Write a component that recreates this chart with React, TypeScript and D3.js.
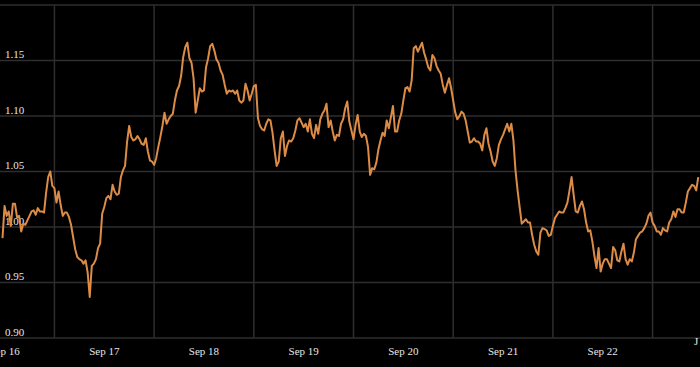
import React from "react";
import * as d3 from "d3";

const width = 700,
  height = 367;

// half-hourly closes, split by calendar day (Sep 16 starts at 11:30)
const sep16 = [
  0.99, 1.019, 1.01, 1.014, 1.001, 1.021, 1.021, 1.009, 1.01, 0.996, 1.003, 1.002, 1.006,
  1.01, 1.014, 1.015, 1.011, 1.017, 1.014, 1.014, 1.013, 1.031, 1.045, 1.05, 1.037,
];
const sep17 = [
  1.035, 1.022, 1.032, 1.02, 1.01, 1.013, 1.013, 1.009, 1.002, 0.991, 0.98, 0.973, 0.971,
  0.97, 0.967, 0.97, 0.959, 0.937, 0.965, 0.967, 0.971, 0.981, 0.985, 1.012, 1.018, 1.026,
  1.028, 1.025, 1.038, 1.032, 1.029, 1.03, 1.045, 1.051, 1.055, 1.077, 1.091, 1.081, 1.078,
  1.079, 1.082, 1.079, 1.075, 1.074, 1.08, 1.068, 1.06, 1.059,
];
const sep18 = [
  1.056, 1.062, 1.072, 1.081, 1.091, 1.103, 1.093, 1.097, 1.1, 1.102, 1.114, 1.123, 1.127,
  1.136, 1.153, 1.162, 1.166, 1.152, 1.148, 1.134, 1.103, 1.114, 1.125, 1.122, 1.123, 1.144,
  1.152, 1.163, 1.165, 1.159, 1.151, 1.148, 1.141, 1.137, 1.128, 1.12, 1.123, 1.122, 1.123,
  1.12, 1.123, 1.114, 1.112, 1.114, 1.129, 1.123, 1.114, 1.12,
];
const sep19 = [
  1.127, 1.128, 1.098, 1.091, 1.088, 1.087, 1.093, 1.097, 1.096, 1.085, 1.069, 1.055, 1.059,
  1.08, 1.086, 1.064, 1.073, 1.078, 1.077, 1.08, 1.087, 1.096, 1.098, 1.094, 1.09, 1.093,
  1.086, 1.097, 1.084, 1.08, 1.092, 1.084, 1.097, 1.102, 1.105, 1.111, 1.09, 1.096, 1.086,
  1.078, 1.083, 1.082, 1.093, 1.097, 1.107, 1.113, 1.095, 1.087,
];
const sep20 = [
  1.079, 1.092, 1.101, 1.086, 1.081, 1.084, 1.082, 1.072, 1.047, 1.053, 1.052, 1.058, 1.07,
  1.078, 1.085, 1.082, 1.096, 1.089, 1.099, 1.109, 1.086, 1.086, 1.096, 1.102, 1.114, 1.125,
  1.126, 1.122, 1.132, 1.161, 1.163, 1.158, 1.162, 1.166, 1.157, 1.151, 1.144, 1.141, 1.155,
  1.152, 1.145, 1.141, 1.138, 1.128, 1.121, 1.128, 1.134, 1.125,
];
const sep21 = [
  1.114, 1.103, 1.097, 1.1, 1.104, 1.102, 1.096, 1.086, 1.076, 1.077, 1.08, 1.077, 1.077,
  1.075, 1.069, 1.083, 1.089, 1.075, 1.068, 1.059, 1.055, 1.062, 1.074, 1.079, 1.083, 1.088,
  1.093, 1.086, 1.093, 1.078, 1.051, 1.033, 1.018, 1.003, 1.005, 1.007, 1.004, 1.004, 0.993,
  0.984, 0.978, 0.975, 0.995, 0.999, 0.998, 0.997, 0.992, 0.993,
];
const sep22 = [
  1.001, 1.008, 1.011, 1.014, 1.013, 1.013, 1.017, 1.022, 1.033, 1.045, 1.029, 1.014, 1.013,
  1.019, 1.023, 1.016, 1.004, 0.996, 0.997, 0.987, 0.974, 0.963, 0.981, 0.96, 0.967, 0.971,
  0.971, 0.967, 0.963, 0.982, 0.979, 0.97, 0.969, 0.978, 0.985, 0.971, 0.966, 0.971, 0.969,
  0.977, 0.989, 0.992, 0.995, 0.996, 0.999, 1.003, 1.01, 1.013,
];
const sep23 = [
  1.004, 1.001, 0.996, 0.996, 0.993, 0.999, 0.997, 0.996, 1.004, 1.007, 1.014, 1.009, 1.016,
  1.016, 1.013, 1.013, 1.022, 1.032, 1.035, 1.038, 1.037, 1.033, 1.045,
];

const days = [
  { day: 16, startSlot: 23, values: sep16 },
  { day: 17, startSlot: 0, values: sep17 },
  { day: 18, startSlot: 0, values: sep18 },
  { day: 19, startSlot: 0, values: sep19 },
  { day: 20, startSlot: 0, values: sep20 },
  { day: 21, startSlot: 0, values: sep21 },
  { day: 22, startSlot: 0, values: sep22 },
  { day: 23, startSlot: 0, values: sep23 },
];

const yTicks = [0.9, 0.95, 1.0, 1.05, 1.1, 1.15, 1.2];
const labelDays = [16, 17, 18, 19, 20, 21, 22];

const data = days.flatMap(({ day, startSlot, values }) =>
  values.map((v, k) => ({
    date: new Date(2024, 8, day, 0, (startSlot + k) * 30),
    value: v,
  })),
);

const xScale = d3
  .scaleTime()
  .domain([new Date(2024, 8, 16, 10, 54), new Date(2024, 8, 23, 11, 25)])
  .range([0, width]);

const yScale = d3.scaleLinear().domain([0.9, 1.2]).range([338, 5]);

const line = d3
  .line<{ date: Date; value: number }>()
  .x((d) => xScale(d.date))
  .y((d) => yScale(d.value));

const gridDays = d3.timeDay.range(new Date(2024, 8, 17), new Date(2024, 8, 24));
const font = "'Liberation Serif', 'Times New Roman', serif";

export default function App() {
  return (
    <svg
      width={width}
      height={height}
      style={{ position: "absolute", left: 0, top: 0, background: "#000" }}
    >
      <rect width={width} height={height} fill="#000" />
      {yTicks.map((t) => (
        <line
          key={t}
          x1={0}
          x2={width}
          y1={yScale(t)}
          y2={yScale(t)}
          stroke="#2e2e2e"
          strokeWidth={1.5}
        />
      ))}
      {gridDays.map((d) => (
        <line
          key={+d}
          x1={xScale(d)}
          x2={xScale(d)}
          y1={yScale(1.2)}
          y2={yScale(0.9)}
          stroke="#2e2e2e"
          strokeWidth={1.5}
        />
      ))}
      {yTicks
        .filter((t) => t < 1.2)
        .map((t) => (
          <text
            key={t}
            x={5}
            y={yScale(t) - 2.5}
            fill="#e6e6e6"
            fontSize={11}
            fontFamily={font}
          >
            {d3.format(".2f")(t)}
          </text>
        ))}
      <path
        d={line(data) ?? ""}
        fill="none"
        stroke="#dc8c47"
        strokeWidth={2}
        strokeLinejoin="round"
      />
      {labelDays.map((day) => (
        <text
          key={day}
          x={xScale(new Date(2024, 8, day, 12))}
          y={355}
          textAnchor="middle"
          fill="#e6e6e6"
          fontSize={11}
          fontFamily={font}
        >
          {`Sep ${day}`}
        </text>
      ))}
      <text x={694} y={345} fill="#e6e6e6" fontSize={11} fontFamily={font}>
        J
      </text>
    </svg>
  );
}
